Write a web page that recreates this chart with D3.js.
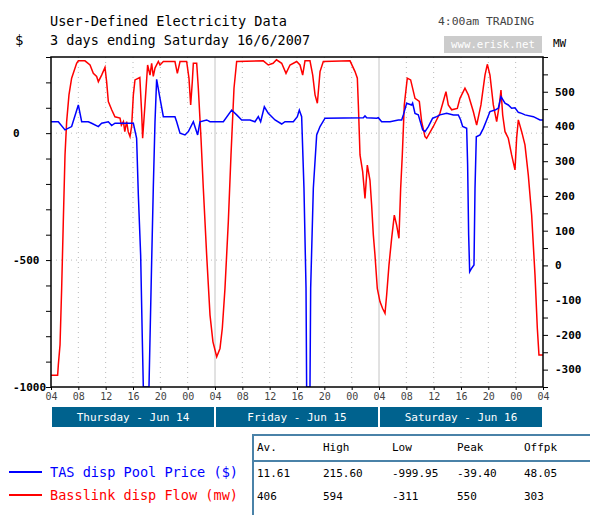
<!DOCTYPE html>
<html>
<head>
<meta charset="utf-8">
<script src="https://cdn.jsdelivr.net/npm/d3@7"></script>
<style>
    body { margin: 0; background: #fff; }
    text { font-family: "DejaVu Sans Mono", monospace; }
</style>
</head>
<body>
<svg id="vis" width="590" height="515"></svg>
<script>

// TAS dispatch pool price ($), [hours since Thu 04:00, value]
const priceData = [
    [0, 45], [1.07, 45], [2.05, 13], [3.02, 26], [4.0, 111], [4.49, 45], [5.46, 45], [5.95, 39],
    [6.93, 26], [7.41, 39], [8.39, 45], [8.88, 30], [9.36, 39], [10.34, 39], [12.05, 39], [12.53, -20],
    [12.78, -243], [13.12, -480], [13.36, -808], [13.51, -1000], [14.34, -1000], [14.49, -808],
    [14.73, -506], [14.97, -217], [15.22, 45], [15.46, 212], [15.95, 137], [16.44, 65], [18.14, 65],
    [18.39, 45], [18.88, 0], [19.61, -7], [20.1, 6], [20.83, 45], [21.46, -7], [21.8, 45], [22.78, 52],
    [23.27, 45], [25.22, 45], [26.44, 91], [27.17, 72], [27.9, 52], [29.12, 52], [29.85, 45],
    [30.34, 65], [30.68, 45], [31.22, 104], [31.8, 78], [32.78, 52], [33.76, 36], [34.24, 45],
    [35.46, 45], [36.05, 65], [36.34, 91], [36.68, 65], [37.02, -217], [37.32, -611], [37.41, -1000],
    [37.9, -1000], [38.0, -611], [38.39, -217], [38.88, -7], [39.37, 26], [40.1, 59], [45.71, 61],
    [45.95, 68], [46.2, 61], [47.66, 59], [47.9, 61], [48.39, 45], [49.61, 45], [50.83, 52],
    [51.32, 52], [51.56, 72], [52.05, 118], [52.78, 111], [52.92, 118], [53.27, 78], [53.75, 72],
    [54.39, 13], [54.73, 6], [55.22, 26], [55.85, 59], [56.44, 65], [56.92, 72], [57.9, 78],
    [58.88, 72], [59.61, 72], [59.95, 52], [60.24, 26], [60.83, 19], [60.97, -125], [61.12, -401],
    [61.27, -546], [61.56, -532], [61.9, -519], [62.05, -217], [62.24, -14], [62.78, -7], [63.27, 19],
    [63.76, 52], [64.24, 85], [64.98, 91], [65.46, 98], [65.85, 144], [66.44, 118], [66.92, 111],
    [67.41, 98], [67.9, 100], [68.39, 82], [68.88, 78], [69.37, 72], [70.59, 65], [71.56, 52], [72, 52]
];

// Basslink dispatch flow (MW)
const flowData = [
    [0, -316], [0.97, -316], [1.07, -287], [1.32, -229], [1.56, -66], [1.8, 126], [2.05, 318],
    [2.29, 414], [2.63, 491], [3.02, 539], [3.75, 582], [4.0, 589], [4.97, 589], [5.71, 577],
    [6.19, 553], [6.68, 544], [6.93, 529], [7.41, 548], [7.9, 570], [8.14, 529], [8.39, 472],
    [8.88, 448], [9.36, 428], [10.1, 424], [10.3, 404], [10.6, 414], [10.8, 385], [11.07, 414],
    [11.3, 385], [11.56, 371], [11.8, 400], [12.05, 491], [12.29, 534], [13.0, 541], [13.27, 438],
    [13.41, 366], [13.75, 462], [14.14, 577], [14.49, 548], [14.73, 582], [14.97, 544], [15.22, 568],
    [15.71, 587], [15.95, 577], [16.44, 587], [18.14, 587], [18.49, 553], [18.88, 587], [19.85, 587],
    [20.19, 539], [20.44, 462], [20.68, 529], [20.83, 582], [21.32, 582], [21.56, 510], [21.95, 366],
    [22.29, 222], [22.78, 30], [23.27, -143], [23.7, -220], [24.25, -263], [24.73, -239],
    [25.07, -181], [25.46, -66], [25.95, 126], [26.34, 318], [26.78, 510], [27.17, 587], [31.07, 589],
    [31.8, 577], [32.5, 582], [33.0, 592], [33.76, 582], [34.39, 553], [34.98, 577], [35.95, 587],
    [36.44, 577], [36.83, 548], [37.17, 589], [37.9, 589], [38.3, 548], [38.64, 491], [38.98, 467],
    [39.37, 558], [39.85, 587], [43.76, 589], [44.49, 558], [44.83, 539], [44.98, 462], [45.22, 318],
    [45.61, 270], [45.95, 193], [46.29, 289], [46.68, 245], [46.92, 174], [47.17, 88], [47.41, 30],
    [47.75, -66], [48.14, -104], [48.53, -124], [48.88, -138], [49.12, -85], [49.46, 1], [49.85, 78],
    [50.24, 145], [50.58, 116], [50.92, 78], [51.17, 222], [51.41, 318], [51.7, 462], [52.14, 539],
    [52.63, 534], [53.27, 481], [53.9, 472], [54.24, 414], [54.73, 371], [54.97, 366], [55.95, 400],
    [56.92, 438], [57.8, 500], [58.14, 462], [58.63, 448], [59.46, 452], [59.85, 481], [60.58, 510],
    [61.07, 491], [61.8, 443], [62.29, 404], [62.92, 462], [63.51, 548], [63.85, 579], [64.24, 548],
    [64.73, 462], [65.22, 414], [65.61, 462], [65.85, 505], [66.1, 433], [66.44, 385], [66.92, 366],
    [67.41, 318], [67.9, 275], [68.14, 366], [68.39, 419], [68.88, 385], [69.36, 347], [69.85, 260],
    [70.34, 145], [70.83, -28], [71.17, -181], [71.41, -258], [72, -258]
];

const tickLabels = ["04", "08", "12", "16", "20", "00", "04", "08", "12", "16", "20", "00",
    "04", "08", "12", "16", "20", "00", "04"];
const dayLabels = ["Thursday - Jun 14", "Friday - Jun 15", "Saturday - Jun 16"];
const priceLabels = [0, -500, -1000];
const flowLabels = [500, 400, 300, 200, 100, 0, -100, -200, -300];

const legendLabels = ["TAS disp Pool Price ($)", "Basslink disp Flow (mw)"];
const statHeaders = ["Av.", "High", "Low", "Peak", "Offpk"];
const priceStats = ["11.61", "215.60", "-999.95", "-39.40", "48.05"];
const flowStats = ["406", "594", "-311", "550", "303"];

const BLUE = "#0000ff";
const RED = "#ff0000";

const svg = d3.select('#vis');
const LEFT = 51, RIGHT = 543, TOP = 57, BOTTOM = 387;

const x = d3.scaleLinear().domain([0, 72]).range([LEFT, RIGHT]);
const yPrice = d3.scaleLinear().domain([-1000, 300]).range([BOTTOM, TOP]);
const yFlow = d3.scaleLinear().domain([-350, 600]).range([BOTTOM, TOP]);

// grid
const grid = svg.append('g');
d3.range(4, 72, 4).forEach(function (h) {
    const day = h % 24 === 0;
    grid.append('line')
        .attr('x1', x(h)).attr('x2', x(h))
        .attr('y1', TOP).attr('y2', BOTTOM)
        .attr('stroke', day ? '#c4c4c4' : '#b8b8b8')
        .attr('stroke-width', 1)
        .attr('stroke-dasharray', day ? null : '1,4');
});
[0, -500].forEach(function (v) {
    grid.append('line')
        .attr('x1', LEFT).attr('x2', RIGHT)
        .attr('y1', yPrice(v)).attr('y2', yPrice(v))
        .attr('stroke', '#b8b8b8')
        .attr('stroke-dasharray', '1,4');
});

// series
svg.append('clipPath').attr('id', 'plot')
    .append('rect').attr('x', LEFT).attr('y', TOP)
    .attr('width', RIGHT - LEFT).attr('height', BOTTOM - TOP);

const flowLine = d3.line().x(d => x(d[0])).y(d => yFlow(d[1]));
const priceLine = d3.line().x(d => x(d[0])).y(d => yPrice(d[1]));

svg.append('path')
    .datum(flowData)
    .attr('clip-path', 'url(#plot)')
    .attr('fill', 'none')
    .attr('stroke', RED)
    .attr('stroke-width', 1.5)
    .attr('d', flowLine);

svg.append('path')
    .datum(priceData)
    .attr('clip-path', 'url(#plot)')
    .attr('fill', 'none')
    .attr('stroke', BLUE)
    .attr('stroke-width', 1.5)
    .attr('d', priceLine);

// frame
svg.append('rect')
    .attr('x', LEFT).attr('y', TOP)
    .attr('width', RIGHT - LEFT).attr('height', BOTTOM - TOP)
    .attr('fill', 'none').attr('stroke', '#000').attr('stroke-width', 1.5);

// left axis
const leftAxis = svg.append('g')
    .attr('transform', 'translate(' + LEFT + ',0)')
    .call(d3.axisLeft(yPrice).tickValues(d3.range(-1000, 301, 100)).tickSize(5).tickFormat(''));
leftAxis.select('.domain').remove();

svg.selectAll('.plabel')
    .data(priceLabels)
    .enter().append('text')
    .attr('class', 'plabel')
    .attr('x', 13)
    .attr('y', d => yPrice(d))
    .attr('dy', '0.35em')
    .attr('font-size', 11)
    .attr('font-weight', 'bold')
    .text(d => d);

// right axis
const rightAxis = svg.append('g')
    .attr('transform', 'translate(' + RIGHT + ',0)')
    .call(d3.axisRight(yFlow).tickValues(d3.range(-350, 601, 50)).tickSize(5).tickFormat(''));
rightAxis.select('.domain').remove();

svg.selectAll('.flabel')
    .data(flowLabels)
    .enter().append('text')
    .attr('class', 'flabel')
    .attr('x', 555)
    .attr('y', d => yFlow(d))
    .attr('dy', '0.35em')
    .attr('font-size', 11)
    .attr('font-weight', 'bold')
    .text(d => d);

// bottom axis
const bottomAxis = svg.append('g')
    .attr('transform', 'translate(0,' + BOTTOM + ')')
    .call(d3.axisBottom(x).tickValues(d3.range(0, 73, 4)).tickSizeInner(3).tickSizeOuter(0)
        .tickPadding(3).tickFormat((d, i) => tickLabels[i]));
bottomAxis.select('.domain').remove();
bottomAxis.selectAll('text')
    .attr('font-family', '"DejaVu Sans Mono", monospace')
    .attr('font-size', 10)
    .attr('fill', '#444');

// day bars
const days = svg.selectAll('.day')
    .data(dayLabels)
    .enter().append('g')
    .attr('class', 'day');
days.append('rect')
    .attr('x', (d, i) => x(i * 24) + 1)
    .attr('y', 407)
    .attr('width', (d, i) => x((i + 1) * 24) - x(i * 24) - 2)
    .attr('height', 20)
    .attr('fill', '#00628e');
days.append('text')
    .attr('x', (d, i) => x(i * 24 + 12))
    .attr('y', 417)
    .attr('dy', '0.35em')
    .attr('text-anchor', 'middle')
    .attr('font-size', 11)
    .attr('fill', '#fff')
    .text(d => d);

// titles
svg.append('text')
    .attr('x', 50).attr('y', 26)
    .attr('font-size', 14)
    .attr('textLength', 237).attr('lengthAdjust', 'spacingAndGlyphs')
    .text('User-Defined Electricity Data');
svg.append('text')
    .attr('x', 50).attr('y', 45)
    .attr('font-size', 14)
    .attr('textLength', 260).attr('lengthAdjust', 'spacingAndGlyphs')
    .text('3 days ending Saturday 16/6/2007');
svg.append('text')
    .attr('x', 15).attr('y', 45)
    .attr('font-size', 14)
    .text('$');
svg.append('text')
    .attr('x', 438).attr('y', 25)
    .attr('font-size', 10)
    .attr('fill', '#444')
    .attr('textLength', 96).attr('lengthAdjust', 'spacingAndGlyphs')
    .text('4:00am TRADING');
svg.append('rect')
    .attr('x', 444).attr('y', 36)
    .attr('width', 98).attr('height', 17)
    .attr('fill', '#cccccc');
svg.append('text')
    .attr('x', 451).attr('y', 44.5)
    .attr('dy', '0.35em')
    .attr('font-size', 10)
    .attr('fill', '#fff')
    .attr('textLength', 84).attr('lengthAdjust', 'spacingAndGlyphs')
    .text('www.erisk.net');
svg.append('text')
    .attr('x', 553).attr('y', 47)
    .attr('font-size', 11)
    .text('MW');

// legend
const legendColors = [BLUE, RED];
const legendY = [472, 495];
legendLabels.forEach(function (label, i) {
    svg.append('line')
        .attr('x1', 9).attr('x2', 42)
        .attr('y1', legendY[i]).attr('y2', legendY[i])
        .attr('stroke', legendColors[i])
        .attr('stroke-width', 2);
    svg.append('text')
        .attr('x', 50).attr('y', legendY[i])
        .attr('dy', '0.35em')
        .attr('font-size', 14)
        .attr('fill', legendColors[i])
        .attr('textLength', 188).attr('lengthAdjust', 'spacingAndGlyphs')
        .text(label);
});

// stats table
const colX = [257, 323, 392, 457, 524];
const table = svg.append('g');
table.append('line').attr('x1', 253).attr('x2', 590).attr('y1', 435).attr('y2', 435)
    .attr('stroke', '#4a82a8').attr('stroke-width', 2);
table.append('line').attr('x1', 253).attr('x2', 253).attr('y1', 434).attr('y2', 515)
    .attr('stroke', '#4a82a8').attr('stroke-width', 2);
table.append('line').attr('x1', 253).attr('x2', 590).attr('y1', 461).attr('y2', 461)
    .attr('stroke', '#4a82a8').attr('stroke-width', 2);

const rows = [statHeaders, priceStats, flowStats];
const rowY = [447, 473, 496];
rows.forEach(function (row, r) {
    table.selectAll('.r' + r)
        .data(row)
        .enter().append('text')
        .attr('class', 'r' + r)
        .attr('x', (d, i) => colX[i])
        .attr('y', rowY[r])
        .attr('dy', '0.35em')
        .attr('font-size', 11)
        .text(d => d);
});

</script>
</body>
</html>
